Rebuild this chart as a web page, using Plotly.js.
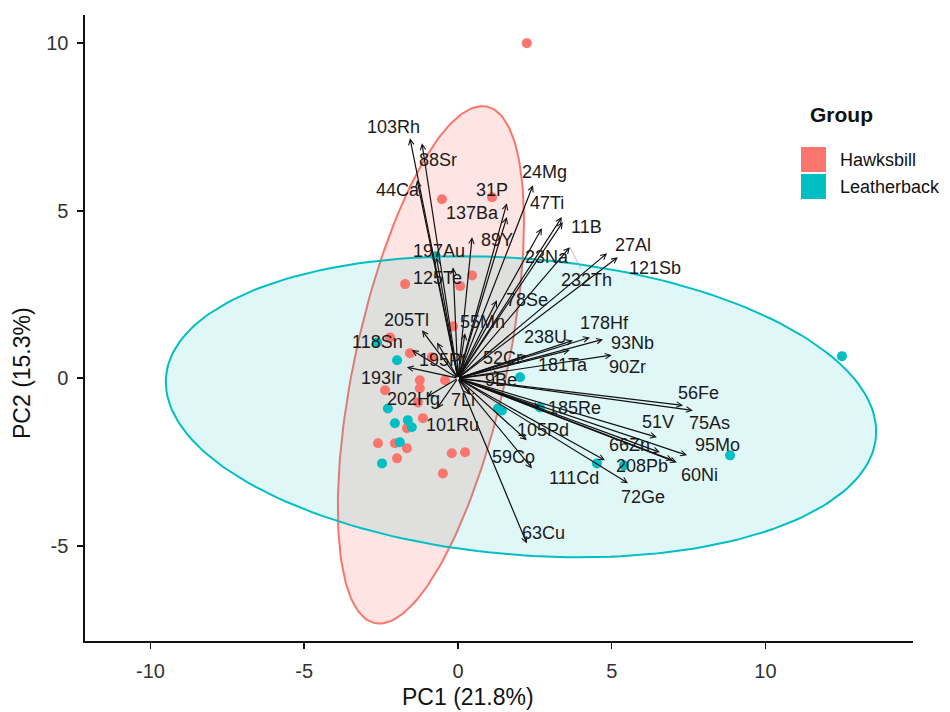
<!DOCTYPE html>
<html>
<head>
<meta charset="utf-8">
<script src="https://cdn.plot.ly/plotly-3.0.1.min.js"></script>
<style>
  html, body { margin: 0; padding: 0; background: #ffffff; }
  #chart { width: 950px; height: 712px; }
</style>
</head>
<body>
<div id="chart"></div>
<script>
// ---------------- DATA ----------------
const hawksbillX = [2.24, -0.52, 1.11, -1.72, 0.07, 0.46, -0.16, -2.21, -1.56, -0.85, -1.24, -0.42, -2.37, -1.24, -1.30, -1.14, -1.66, -2.60, -2.05, -1.66, -1.98, -0.20, 0.23, -0.49];
const hawksbillY = [10.0, 5.34, 5.40, 2.81, 2.75, 3.07, 1.55, 1.22, 0.75, 0.63, -0.06, -0.06, -0.36, -0.30, -0.72, -1.19, -1.49, -1.94, -1.94, -2.09, -2.39, -2.24, -2.21, -2.84];

const leatherbackX = [12.49, 8.85, 4.52, 5.40, 2.67, 1.30, 1.43, 2.02, -2.63, -1.98, -2.28, -2.05, -1.63, -1.50, -1.89, -2.47, -0.72];
const leatherbackY = [0.66, -2.30, -2.54, -2.60, -0.87, -0.90, -0.96, 0.03, 1.07, 0.54, -0.90, -1.34, -1.25, -1.46, -1.91, -2.54, 3.64];

const variableNames = ["103Rh","88Sr","44Ca","31P","24Mg","137Ba","47Ti","11B","89Y","197Au","23Na","27Al","121Sb","232Th","125Te","78Se","205Tl","55Mn","118Sn","195Pt","193Ir","238U","178Hf","93Nb","52Cr","181Ta","90Zr","9Be","56Fe","75As","51V","185Re","202Hg","7Li","101Ru","105Pd","59Co","66Zn","95Mo","208Pb","60Ni","111Cd","72Ge","63Cu"];
const variablePC1 = [-1.56, -1.17, -1.33, 1.59, 2.44, 1.59, 3.38, 3.41, 0.46, -0.70, 2.73, 4.85, 5.20, 3.64, -0.16, 1.27, -1.17, 0.23, -1.50, -0.68, -1.66, 3.74, 4.29, 4.72, 2.24, 3.64, 5.00, 1.40, 7.32, 7.64, 6.47, 2.67, -1.00, 0.40, -0.68, 2.24, 2.41, 6.57, 7.45, 7.12, 6.99, 4.78, 5.53, 2.24];
const variablePC2 = [7.16, 7.01, 5.91, 5.22, 5.76, 4.81, 4.81, 4.66, 4.21, 3.60, 4.48, 3.73, 3.61, 3.91, 3.31, 2.33, 1.43, 1.34, 0.84, 1.07, 0.33, 1.13, 1.22, 1.16, 0.69, 0.84, 0.69, 0.15, -0.81, -0.96, -1.76, -0.87, -0.55, -0.50, -0.90, -1.85, -2.69, -2.21, -2.30, -2.51, -2.45, -2.45, -3.13, -4.93];

// 95% concentration ellipses (centre, semi-axes, rotation in degrees)
const hawksbillEllipse = { cx: -0.88, cy: 0.40, a: 7.92, b: 2.46, angle: 76.45 };
const leatherbackEllipse = { cx: 2.05, cy: -0.85, a: 11.58, b: 4.42, angle: -4.3 };

const groupNames = ["Hawksbill", "Leatherback"];
const xTicks = [-10, -5, 0, 5, 10];
const yTicks = [-5, 0, 5, 10];

// ---------------- STYLE / LAYOUT ----------------
const COLORS = { Hawksbill: "#F8766D", Leatherback: "#00BFC4" };
const FONT = "Liberation Sans, Arial, Helvetica, sans-serif";
const W = 950, H = 712;
const M = { l: 85, r: 37, t: 15, b: 71 };

// label offsets in pixels [dx, dy(up)]
const labelShift = {
  "103Rh": [-16, 11], "88Sr": [16, -17], "44Ca": [-19, -10], "31P": [-15, 13], "24Mg": [12, 13],
  "137Ba": [-34, 4], "47Ti": [-15, 14], "11B": [24, -5], "89Y": [25, -3], "197Au": [3, 7],
  "23Na": [5, -29], "27Al": [26, 8], "121Sb": [37, -11], "232Th": [17, -33], "125Te": [-16, -11],
  "78Se": [30, 0], "205Tl": [-15, 10], "55Mn": [17, 11], "118Sn": [-34, 8], "195Pt": [5, -18],
  "193Ir": [-25, -11], "238U": [-27, 3], "178Hf": [15, 14], "93Nb": [29, -4], "52Cr": [-24, -3],
  "181Ta": [-7, -15], "90Zr": [16, -12], "9Be": [0, -7], "56Fe": [15, 12], "75As": [17, -13],
  "51V": [1, 15], "185Re": [34, -1], "202Hg": [-14, -2], "7Li": [-7, -5], "101Ru": [15, -17],
  "105Pd": [16, 10], "59Co": [-19, 11], "66Zn": [-30, 7], "95Mo": [30, 10], "208Pb": [-35, -4],
  "60Ni": [27, -15], "111Cd": [-31, -18], "72Ge": [15, -14], "63Cu": [17, 10]
};

function ellipseOutline(p, n) {
  const th = p.angle * Math.PI / 180;
  const xs = [], ys = [];
  for (let i = 0; i <= n; i++) {
    const t = 2 * Math.PI * i / n;
    const u = p.a * Math.cos(t), v = p.b * Math.sin(t);
    xs.push(p.cx + u * Math.cos(th) - v * Math.sin(th));
    ys.push(p.cy + u * Math.sin(th) + v * Math.cos(th));
  }
  return { x: xs, y: ys };
}

const plotW = W - M.l - M.r, plotH = H - M.t - M.b;
const px = x => (x - M.l) / plotW;
const py = y => (H - M.b - y) / plotH;

const eH = ellipseOutline(hawksbillEllipse, 200);
const eL = ellipseOutline(leatherbackEllipse, 200);

const traces = [
  { type: "scatter", mode: "lines", x: eH.x, y: eH.y, fill: "toself",
    fillcolor: "rgba(248,118,109,0.2)", line: { color: COLORS.Hawksbill, width: 2 },
    hoverinfo: "skip", showlegend: false },
  { type: "scatter", mode: "lines", x: eL.x, y: eL.y, fill: "toself",
    fillcolor: "rgba(0,191,196,0.12)", line: { color: COLORS.Leatherback, width: 2 },
    hoverinfo: "skip", showlegend: false },
  { type: "scatter", mode: "markers", name: groupNames[0], x: hawksbillX, y: hawksbillY,
    marker: { color: COLORS.Hawksbill, size: 10 }, showlegend: false },
  { type: "scatter", mode: "markers", name: groupNames[1], x: leatherbackX, y: leatherbackY,
    marker: { color: COLORS.Leatherback, size: 10 }, showlegend: false }
];

const annotations = [];
variableNames.forEach((name, i) => {
  annotations.push({
    x: variablePC1[i], y: variablePC2[i], xref: "x", yref: "y",
    ax: 0, ay: 0, axref: "x", ayref: "y", text: "",
    showarrow: true, arrowhead: 5, arrowsize: 0.9, arrowwidth: 1.2, arrowcolor: "#111", standoff: 0
  });
});
variableNames.forEach((name, i) => {
  const s = labelShift[name] || [0, 0];
  if (name === "232Th") {
    annotations.push({
      x: variablePC1[i], y: variablePC2[i], xref: "x", yref: "y",
      text: name, showarrow: true, arrowhead: 0, arrowwidth: 0.8, arrowcolor: "#aaaaaa",
      ax: s[0], ay: -s[1], standoff: 0,
      font: { family: FONT, size: 18, color: "#1a1a1a" }
    });
  } else {
    annotations.push({
      x: variablePC1[i], y: variablePC2[i], xref: "x", yref: "y",
      text: name, showarrow: false, xshift: s[0], yshift: s[1],
      font: { family: FONT, size: 18, color: "#1a1a1a" }
    });
  }
});

// axis titles
annotations.push({ xref: "paper", yref: "paper", x: px(468), y: py(697), text: "PC1 (21.8%)",
  showarrow: false, xanchor: "center", yanchor: "middle", font: { family: FONT, size: 23, color: "#111" } });
annotations.push({ xref: "paper", yref: "paper", x: px(22), y: py(373), text: "PC2 (15.3%)", textangle: -90,
  showarrow: false, xanchor: "center", yanchor: "middle", font: { family: FONT, size: 23, color: "#111" } });

// legend (manual)
annotations.push({ xref: "paper", yref: "paper", x: px(808), y: py(114), text: "<b>Group</b>",
  showarrow: false, xanchor: "left", yanchor: "middle", font: { family: FONT, size: 21, color: "#111" } });
annotations.push({ xref: "paper", yref: "paper", x: px(838), y: py(160), text: groupNames[0],
  showarrow: false, xanchor: "left", yanchor: "middle", font: { family: FONT, size: 18, color: "#111" } });
annotations.push({ xref: "paper", yref: "paper", x: px(838), y: py(187), text: groupNames[1],
  showarrow: false, xanchor: "left", yanchor: "middle", font: { family: FONT, size: 18, color: "#111" } });

const shapes = [
  { type: "rect", xref: "paper", yref: "paper", x0: px(801), x1: px(826), y0: py(172), y1: py(147),
    fillcolor: COLORS.Hawksbill, line: { width: 0 } },
  { type: "rect", xref: "paper", yref: "paper", x0: px(801), x1: px(826), y0: py(199), y1: py(174),
    fillcolor: COLORS.Leatherback, line: { width: 0 } }
];

const axisCommon = {
  showgrid: false, zeroline: false, showline: true, linecolor: "#111", linewidth: 1.6,
  ticks: "outside", ticklen: 6, tickwidth: 1.6, tickcolor: "#111",
  tickfont: { family: FONT, size: 20, color: "#333" }, ticklabelstandoff: 5
};

const layout = {
  width: W, height: H,
  margin: M,
  paper_bgcolor: "#ffffff", plot_bgcolor: "#ffffff",
  showlegend: false,
  xaxis: Object.assign({}, axisCommon, { range: [-12.13, 14.8], tickvals: xTicks, ticktext: xTicks.map(String) }),
  yaxis: Object.assign({}, axisCommon, { range: [-7.84, 10.84], tickvals: yTicks, ticktext: yTicks.map(String) }),
  annotations: annotations,
  shapes: shapes
};

Plotly.newPlot("chart", traces, layout, { displayModeBar: false, staticPlot: true });
</script>
</body>
</html>
